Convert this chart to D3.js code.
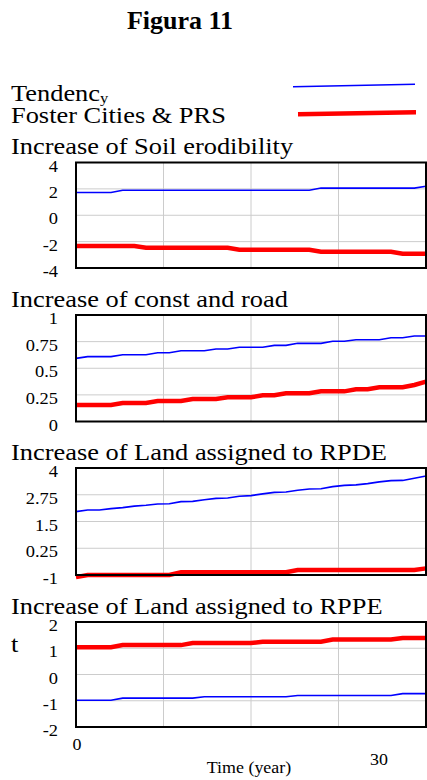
<!DOCTYPE html>
<html>
<head>
<meta charset="utf-8">
<script src="https://cdn.jsdelivr.net/npm/d3@7"></script>
<style>
  html, body { margin: 0; padding: 0; background: #fff; }
  svg { display: block; }
</style>
</head>
<body>
<svg class="figSVG" width="427" height="780"></svg>
<script>
// ---- data ----
const years = [0,1,2,3,4,5,6,7,8,9,10,11,12,13,14,15,16,17,18,19,20,21,22,23,24,25,26,27,28,29,30];

const seriesNames = ['Tendency', 'Foster Cities & PRS'];

const panelTitles = [
  'Increase of Soil erodibility',
  'Increase of const and road',
  'Increase of Land assigned to RPDE',
  'Increase of Land assigned to RPPE'
];

const yTicks = [
  [4, 2, 0, -2, -4],
  [1, 0.75, 0.5, 0.25, 0],
  [4, 2.75, 1.5, 0.25, -1],
  [2, 1, 0, -1, -2]
];

// soil erodibility
const tendSoil = [1.73,1.73,1.73,1.73,1.9,1.9,1.9,1.9,1.9,1.9,1.9,1.9,1.9,1.9,1.9,1.9,1.9,1.9,1.9,1.9,1.9,
                  2.06,2.06,2.06,2.06,2.06,2.06,2.06,2.06,2.06,2.2];
const fosterSoil = [-2.33,-2.33,-2.33,-2.33,-2.33,-2.33,-2.46,-2.46,-2.46,-2.46,-2.46,-2.46,-2.46,-2.46,
                    -2.61,-2.61,-2.61,-2.61,-2.61,-2.61,-2.61,-2.77,-2.77,-2.77,-2.77,-2.77,-2.77,-2.77,
                    -2.92,-2.92,-2.92];

// const and road
const tendRoad = [0.593,0.609,0.609,0.609,0.627,0.627,0.627,0.646,0.646,0.665,0.665,0.665,0.681,0.681,
                  0.697,0.697,0.697,0.715,0.715,0.734,0.734,0.734,0.753,0.753,0.768,0.768,0.768,0.787,0.787,
                  0.803,0.803];
const fosterRoad = [0.155,0.155,0.155,0.155,0.174,0.174,0.174,0.192,0.192,0.192,0.211,0.211,0.211,0.227,
                    0.227,0.227,0.246,0.246,0.265,0.265,0.265,0.283,0.283,0.283,0.302,0.302,0.321,0.321,0.321,
                    0.343,0.374];

// land RPDE
const tendRPDE = [1.96,2.04,2.04,2.10,2.15,2.22,2.26,2.32,2.33,2.43,2.44,2.52,2.58,2.60,2.68,2.71,2.79,2.86,
                  2.88,2.96,3.02,3.03,3.13,3.19,3.21,3.27,3.35,3.41,3.42,3.52,3.63];
const fosterRPDE = [-1.1,-1.0,-1.0,-1.0,-1.0,-1.0,-1.0,-1.0,-1.0,-0.875,-0.875,-0.875,-0.875,-0.875,-0.875,
                    -0.875,-0.875,-0.875,-0.875,-0.77,-0.77,-0.77,-0.77,-0.77,-0.77,-0.77,-0.77,-0.77,-0.77,
                    -0.77,-0.69];

// land RPPE
const tendRPPE = [-0.98,-0.98,-0.98,-0.98,-0.9,-0.9,-0.9,-0.9,-0.9,-0.9,-0.9,-0.85,-0.85,-0.85,-0.85,-0.85,
                  -0.85,-0.85,-0.85,-0.8,-0.8,-0.8,-0.8,-0.8,-0.8,-0.8,-0.8,-0.8,-0.73,-0.73,-0.73];
const fosterRPPE = [1.04,1.04,1.04,1.04,1.12,1.12,1.12,1.12,1.12,1.12,1.2,1.2,1.2,1.2,1.2,1.2,1.25,1.25,1.25,
                    1.25,1.25,1.25,1.33,1.33,1.33,1.33,1.33,1.33,1.39,1.39,1.39];

const xLabels = [0, 30];

// ---- drawing ----
function drawFigure(){
  const svg = d3.select('svg.figSVG');
  const serif = "'Liberation Serif', 'Times New Roman', serif";
  const stretch = 1.1;

  const panels = [
    {title: panelTitles[0], ticks: yTicks[0], tend: tendSoil, foster: fosterSoil, top: 162.5, bottom: 268},
    {title: panelTitles[1], ticks: yTicks[1], tend: tendRoad, foster: fosterRoad, top: 315, bottom: 421.5},
    {title: panelTitles[2], ticks: yTicks[2], tend: tendRPDE, foster: fosterRPDE, top: 468, bottom: 575},
    {title: panelTitles[3], ticks: yTicks[3], tend: tendRPPE, foster: fosterRPPE, top: 622, bottom: 727}
  ];

  // text helper, the source figure is a bit wider than normal type
  function txt(g, s, x, y, size, sx, anchor){
    return g.append('text')
      .text(s)
      .attr('transform', `translate(${x},${y}) scale(${sx},1)`)
      .style('font-family', serif)
      .style('font-size', size + 'px')
      .style('text-anchor', anchor || 'start')
      .style('fill', '#000');
  }

  svg.append('rect').attr('width', 427).attr('height', 780).attr('fill', '#fff');

  txt(svg, 'Figura 11', 180, 29, 26, 1, 'middle').style('font-weight', 'bold');

  // legend (the last "y" of Tendency is set smaller in the source)
  const tend = txt(svg, '', 11, 101, 24, stretch);
  tend.append('tspan').text(seriesNames[0].slice(0, -1));
  tend.append('tspan').text(seriesNames[0].slice(-1))
    .attr('dy', 2)
    .style('font-size', '15px');
  txt(svg, seriesNames[1], 11, 123, 24, stretch);

  svg.append('line')
    .attr('x1', 293).attr('y1', 86.7).attr('x2', 415).attr('y2', 84.3)
    .style('stroke', '#0000ff').style('stroke-width', 1.6);
  svg.append('line')
    .attr('x1', 298).attr('y1', 114.3).attr('x2', 416).attr('y2', 112.3)
    .style('stroke', '#ff0000').style('stroke-width', 4.5);

  const x = d3.scaleLinear()
    .domain([years[0], years[years.length - 1]])
    .range([76, 426]);

  const gridX = [7.5, 15, 22.5];

  panels.forEach(p => {
    const ext = d3.extent(p.ticks);
    const y = d3.scaleLinear().domain(ext).range([p.bottom, p.top]);
    const g = svg.append('g').attr('class', 'panel');

    txt(g, p.title, 11, p.top - 8.5, 24, stretch);

    // grid
    g.selectAll('line.vgrid')
      .data(gridX)
      .enter()
      .append('line')
      .attr('class', 'vgrid')
      .attr('x1', d => x(d)).attr('x2', d => x(d))
      .attr('y1', p.top).attr('y2', p.bottom)
      .style('stroke', '#cccccc').style('stroke-width', 1);

    g.selectAll('line.hgrid')
      .data(p.ticks.filter(d => d !== ext[0] && d !== ext[1]))
      .enter()
      .append('line')
      .attr('class', 'hgrid')
      .attr('x1', x.range()[0]).attr('x2', x.range()[1])
      .attr('y1', d => y(d)).attr('y2', d => y(d))
      .style('stroke', '#cccccc').style('stroke-width', 1);

    // tick labels
    p.ticks.forEach(v => {
      txt(g, String(v), 58, y(v) + 9, 16, 1.15, 'end');
    });

    // lines
    const line = d3.line()
      .x((d, i) => x(years[i]))
      .y(d => y(d));

    g.append('path')
      .datum(p.tend)
      .attr('d', line)
      .style('fill', 'none')
      .style('stroke', '#0000ff')
      .style('stroke-width', 1.6);

    g.append('path')
      .datum(p.foster)
      .attr('d', line)
      .style('fill', 'none')
      .style('stroke', '#ff0000')
      .style('stroke-width', 4.5);

    // frame
    g.append('rect')
      .attr('x', x.range()[0]).attr('y', p.top)
      .attr('width', x.range()[1] - x.range()[0])
      .attr('height', p.bottom - p.top)
      .style('fill', 'none')
      .style('stroke', '#000')
      .style('stroke-width', 2);
  });

  // unit label on the last panel
  txt(svg, 't', 11, 651.7, 24, stretch);

  // time axis labels
  txt(svg, String(xLabels[0]), x(xLabels[0]) + 1, 750, 16, 1.12, 'middle');
  txt(svg, String(xLabels[1]), x(xLabels[1]) - 38, 765, 16, 1.12, 'end');
  txt(svg, 'Time (year)', x(15) - 2, 773, 16, 1.12, 'middle');
}

drawFigure();
</script>
</body>
</html>
